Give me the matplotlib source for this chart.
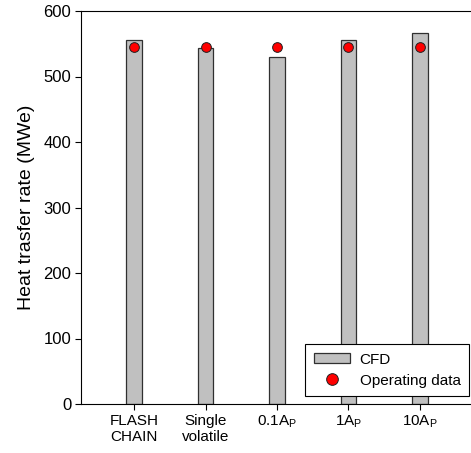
import numpy as np
import matplotlib
matplotlib.use("Agg")
import matplotlib.pyplot as plt

plt.rcParams['font.family'] = ['Liberation Sans', 'DejaVu Sans']
plt.rcParams['mathtext.default'] = 'regular'

cases = ["FLASH\nCHAIN", "Single\nvolatile", "0.1A$_P$", "1A$_P$", "10A$_P$"]
cfd = [555, 543, 530, 555, 566]
operating = [545, 545, 545, 545, 545]

fig = plt.figure(figsize=(4.71, 4.53), dpi=100)
W, H = 471, 453
ax = fig.add_axes([81/W, (H-404)/H, (473-81)/W, (404-11)/H])

x = np.arange(len(cases))
bars = ax.bar(x, cfd, width=0.22, color='#c0c0c0', edgecolor='#303030', linewidth=0.9, label='CFD', zorder=2)
pts, = ax.plot(x, operating, 'o', color='red', markeredgecolor='#202020', markeredgewidth=0.7,
               markersize=7, linestyle='none', label='Operating data', zorder=3)

ax.set_xlim(-0.745, len(cases) - 1 + 0.745)
ax.set_ylim(0, 600)
ax.set_yticks(np.arange(0, 601, 100))
ax.set_xticks(x)
ax.set_xticklabels(cases)
ax.tick_params(axis='both', direction='out', length=4, width=0.8, labelsize=11, pad=3)
ax.tick_params(axis='y', labelsize=12)
ax.set_ylabel("Heat trasfer rate (MWe)", fontsize=14, labelpad=6)

for s in ax.spines.values():
    s.set_linewidth(0.8)

leg = ax.legend([bars, pts], ['CFD', 'Operating data'], loc='lower right',
                bbox_to_anchor=(388/392, 8/393), fontsize=11,
                frameon=True, fancybox=False, edgecolor='black', framealpha=1,
                borderpad=0.55, handlelength=2.4, handleheight=0.6, handletextpad=0.6,
                labelspacing=0.45, borderaxespad=0, markerscale=1.2)
leg.get_frame().set_linewidth(0.8)

fig.savefig("out.png", dpi=100)
